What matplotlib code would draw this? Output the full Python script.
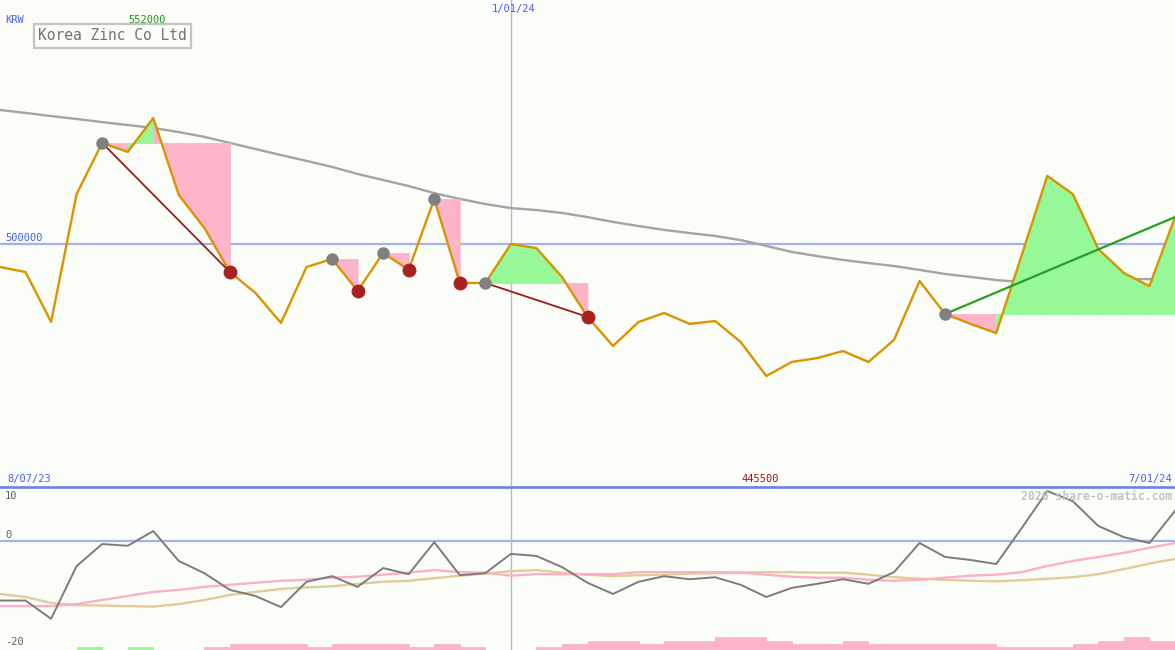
import matplotlib
matplotlib.use("Agg")
import matplotlib.pyplot as plt
from matplotlib.lines import Line2D
import numpy as np

# ---------------- data ----------------
price = [490500, 488400, 467800, 520600, 541700, 538000, 552000, 520200, 506600, 488400,
         479800, 467400, 490500, 493800, 480600, 496300, 489300, 518600, 483900, 483900,
         500000, 498300, 486400, 469900, 457900, 467800, 471500, 467000, 468200, 459500,
         445500, 451300, 452900, 455800, 451300, 460400, 484700, 471100, 467000, 463200,
         495400, 528100, 520600, 497900, 488000, 482600, 511100]
ma_long = [555300, 554100, 552800, 551600, 550300, 549100, 547900, 546200, 544200, 541700,
           539200, 536700, 534300, 531800, 528900, 526400, 523900, 521000, 518600, 516500,
           514800, 514000, 512800, 511100, 509100, 507400, 505800, 504500, 503300, 501600,
           499200, 496700, 495000, 493400, 492100, 490900, 489300, 487600, 486400, 485100,
           484300, 484700, 485100, 485500, 485500, 485500, 486000]
osc = [-11.8, -11.8, -15.4, -5.0, -0.65, -1.0, 1.9, -4.0, -6.4, -9.7,
       -10.9, -13.1, -8.1, -7.0, -9.1, -5.4, -6.6, -0.3, -6.8, -6.4,
       -2.6, -3.0, -5.2, -8.3, -10.5, -8.1, -7.0, -7.6, -7.2, -8.7,
       -11.1, -9.3, -8.5, -7.6, -8.5, -6.2, -0.45, -3.2, -3.8, -4.6,
       2.5, 9.8, 7.8, 2.9, 0.7, -0.45, 5.9]
osc_pink = [-12.9, -12.9, -12.9, -12.5, -11.7, -10.9, -10.1, -9.7, -9.1, -8.7,
            -8.3, -7.9, -7.7, -7.3, -7.1, -6.7, -6.3, -5.8, -6.2, -6.3,
            -6.9, -6.6, -6.6, -6.6, -6.6, -6.2, -6.2, -6.2, -6.2, -6.3,
            -6.7, -7.1, -7.3, -7.3, -7.7, -7.9, -7.7, -7.3, -6.9, -6.7,
            -6.2, -5.0, -4.0, -3.2, -2.4, -1.4, -0.45]
osc_tan = [-10.5, -11.1, -12.3, -12.7, -12.8, -12.9, -13.0, -12.5, -11.7, -10.7,
           -10.1, -9.5, -9.2, -9.0, -8.5, -8.1, -7.9, -7.4, -6.9, -6.5,
           -6.0, -5.8, -6.3, -6.7, -7.0, -6.8, -6.7, -6.5, -6.4, -6.3,
           -6.2, -6.2, -6.3, -6.3, -6.7, -7.2, -7.5, -7.7, -7.9, -8.0,
           -7.8, -7.5, -7.2, -6.6, -5.6, -4.5, -3.6]
# bottom histogram: height level per interval (sign: + green, - pink, 0 none)
bars = [0, 0, 0, 1, 0, 1, 0, 0, -1, -2,
        -2, -2, -1, -2, -2, -2, -1, -2, -1, 0,
        0, -1, -2, -3, -3, -2, -3, -3, -4, -4,
        -3, -2, -2, -3, -2, -2, -2, -2, -2, -1,
        -1, -1, -2, -3, -4, -3]
bar_unit = 0.62

peaks = [4, 13, 15, 17, 19, 37]
troughs = [9, 14, 16, 18, 23]
episodes = [(4, 9), (13, 14), (15, 16), (17, 18), (19, 23), (37, 46)]
down_lines = [(4, 9), (19, 23)]
up_lines = [(37, 46)]

start_label = "8/07/23"
mid_label = "1/01/24"
end_label = "7/01/24"
mid_idx = 20
title = "Korea Zinc Co Ltd"
currency = "KRW"
ref_level = 500000

# ---------------- style ----------------
W, H = 1175, 650
BG = "#fbfdf8"
ORANGE = "#d99400"
PINK = "#fbb4c8"
GREEN = "#96f896"
BLUE_LBL = "#4a5ef0"
LIGHTBLUE = "#a4b0f0"
SEP = "#7080e6"
MONO = "DejaVu Sans Mono"

x = np.arange(len(price))
fig = plt.figure(figsize=(W / 100, H / 100), dpi=100, facecolor=BG)

sep_px = 487
ax = fig.add_axes([0, (H - sep_px) / H, 1, sep_px / H])
axb = fig.add_axes([0, 0, 1, (H - sep_px) / H])
for a in (ax, axb):
    a.set_facecolor(BG)
    a.set_xlim(0, len(price) - 1)
    a.axis("off")

ax.set_ylim(399680, 600710)
axb.set_ylim(-21.56, 10.6)

# top panel
ax.axhline(ref_level, color=LIGHTBLUE, lw=1.6, zorder=1)
ax.axvline(mid_idx, color="#b0b8e0", lw=1.0, zorder=1)
ax.plot(x, ma_long, color="#a4a4a4", lw=1.7, zorder=2)

for s, e in episodes:
    level = price[s]
    for i in range(s, e):
        col = GREEN if price[i + 1] > level else PINK
        ax.fill_between([x[i], x[i + 1]], [price[i], price[i + 1]], level,
                        facecolor=col, edgecolor=col, lw=0.6, zorder=2)

ax.plot(x, price, color=ORANGE, lw=1.7, zorder=4)
for s, e in down_lines:
    ax.plot([x[s], x[e]], [price[s], price[e]], color="#9a1c1c", lw=1.3, zorder=5)
for s, e in up_lines:
    ax.plot([x[s], x[e]], [price[s], price[e]], color="#24a024", lw=1.6, zorder=5)
ax.plot(x[peaks], np.array(price)[peaks], "o", color="#808080", ms=9, mew=0, zorder=6)
ax.plot(x[troughs], np.array(price)[troughs], "o", color="#a82222", ms=10, mew=0, zorder=6)

# bottom panel
axb.axhline(0, color=LIGHTBLUE, lw=1.6, zorder=1)
axb.axvline(mid_idx, color="#b0b8e0", lw=1.0, zorder=1)
for i, b in enumerate(bars):
    if b != 0:
        col = GREEN if b > 0 else PINK
        axb.bar(x[i], abs(b) * bar_unit, width=1.0, align="edge", bottom=-21.56,
                facecolor=col, edgecolor=col, lw=0.6, zorder=2)
axb.plot(x, osc_tan, color="#e2cc98", lw=1.7, zorder=3)
axb.plot(x, osc_pink, color="#fbb0c8", lw=1.7, zorder=3)
axb.plot(x, osc, color="#7c7c7c", lw=1.4, zorder=4)

fig.add_artist(Line2D([0, 1], [(H - sep_px) / H] * 2, color=SEP, lw=1.9))

# texts
def ftxt(px, py, s, **kw):
    fig.text(px / W, 1 - py / H, s, family=MONO, **kw)

ftxt(5, 20, currency, color=BLUE_LBL, fontsize=7.5, va="center", ha="left")
ftxt(147, 20, f"{max(price)}", color="#229022", fontsize=7.5, va="center", ha="center")
ftxt(38, 36, title, color="#737373", fontsize=10.5, va="center", ha="left",
     bbox=dict(boxstyle="square,pad=0.3", fc=BG, ec="#c4c4c4", lw=1.6))
ftxt(514, 9, mid_label, color=BLUE_LBL, fontsize=7.5, va="center", ha="center")
ftxt(5, 238, f"{ref_level}", color=BLUE_LBL, fontsize=7.5, va="center", ha="left")
ftxt(7, 479, start_label, color=BLUE_LBL, fontsize=7.5, va="center", ha="left")
ftxt(760, 479, f"{min(price)}", color="#a01414", fontsize=7.5, va="center", ha="center")
ftxt(1172, 479, end_label, color=BLUE_LBL, fontsize=7.5, va="center", ha="right")
ftxt(1172, 496, "2026 share-o-matic.com", color="#c4c4c4", fontsize=8.3,
     va="center", ha="right", fontweight="bold")
ftxt(5, 496, "10", color="#606060", fontsize=7.5, va="center", ha="left")
ftxt(5, 535, "0", color="#606060", fontsize=7.5, va="center", ha="left")
ftxt(5, 642, "-20", color="#606060", fontsize=7.5, va="center", ha="left")

fig.savefig("out.png", dpi=100, facecolor=BG)
